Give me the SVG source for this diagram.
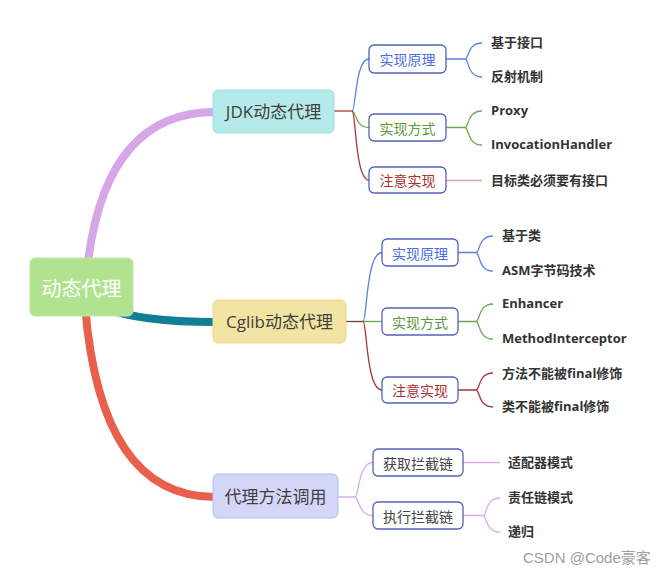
<svg xmlns="http://www.w3.org/2000/svg" width="667" height="575" viewBox="0 0 667 575">
<style>
.l1t{font-family:"Open Sans","Noto Sans CJK SC",sans-serif;font-size:17px;fill:#404040;text-anchor:middle;dominant-baseline:central}
.l2{fill:#ffffff;stroke:#5363b8;stroke-width:1.3}
.l2t{font-family:"Noto Sans CJK SC",sans-serif;font-size:14px;text-anchor:middle;dominant-baseline:central}
.leaf{font-family:"Open Sans","Noto Sans CJK SC",sans-serif;font-size:13px;font-weight:bold;fill:#333333;dominant-baseline:central}
.c{fill:none;stroke-width:1.3}
.blue{stroke:#5b7fe8}.green{stroke:#6aa84f}.red{stroke:#a83434}.purple{stroke:#d9aaf0}.lred{stroke:#e2a4a4}
.thick{fill:none;stroke-width:8;stroke-linecap:round}
</style>
<rect width="667" height="575" fill="#ffffff"/>
<g id="connectors">
  <path class="thick" stroke="#d5a6e8" d="M 87 270 Q 104 112 215 112"/>
  <path class="thick" stroke="#137f94" d="M 105 308 Q 140 322 215 322"/>
  <path class="thick" stroke="#e8604c" d="M 85 305 Q 100 497 215 497"/>
  <!-- JDK -->
  <path class="c red" d="M 334 111 H 352"/>
  <path class="c blue" d="M 352 111 C 356 111 355 59 369 59"/>
  <path class="c green" d="M 352 111 C 356 111 355 127.5 369 127.5"/>
  <path class="c red" d="M 352 111 C 356 111 355 180 369 180"/>
  <path class="c blue" d="M 446 59 H 465 M 465 59 C 469 59 467 43 482 43 M 465 59 C 469 59 467 77 482 77"/>
  <path class="c green" d="M 446 127.5 H 465 M 465 127.5 C 469 127.5 467 111 482 111 M 465 127.5 C 469 127.5 467 145 482 145"/>
  <path class="c lred" d="M 446 180.5 H 482"/>
  <!-- Cglib -->
  <path class="c" stroke="#7b3b2c" stroke-width="2" fill="none" d="M 346 321.5 H 363"/>
  <path class="c blue" d="M 363 321.5 C 367 321.5 366 252.5 382 252.5"/>
  <path class="c green" d="M 363 321.5 H 382"/>
  <path class="c red" d="M 363 321.5 C 367 321.5 366 390 382 390"/>
  <path class="c blue" d="M 458 252.5 H 476 M 476 252.5 C 480 252.5 478 236 493 236 M 476 252.5 C 480 252.5 478 271 493 271"/>
  <path class="c green" d="M 458 321.5 H 476 M 476 321.5 C 480 321.5 478 304 493 304 M 476 321.5 C 480 321.5 478 339 493 339"/>
  <path class="c red" d="M 458 390 H 476 M 476 390 C 480 390 478 373 493 373 M 476 390 C 480 390 478 407 493 407"/>
  <!-- Proxy call -->
  <path class="c purple" d="M 338 497 H 355 M 355 497 C 359 497 358 462.5 373 462.5 M 355 497 C 359 497 358 515.5 373 515.5"/>
  <path class="c purple" d="M 463 462.5 H 500"/>
  <path class="c purple" d="M 463 515.5 H 483 M 483 515.5 C 487 515.5 485 498 500 498 M 483 515.5 C 487 515.5 485 532 500 532"/>
</g>
<g id="root">
  <rect x="30" y="258" width="103" height="58" rx="5" fill="#b1e28f" stroke="#c3e9a6"/>
  <text x="81.5" y="287" font-family="Noto Sans CJK SC,sans-serif" font-size="20" fill="#ffffff" text-anchor="middle" dominant-baseline="central">动态代理</text>
</g>
<g id="jdk">
  <rect x="213" y="90" width="121" height="43" rx="5" fill="#b5eaea" stroke="#9edfe0"/>
  <text class="l1t" x="273.5" y="111.5">JDK动态代理</text>
</g>
<g id="cglib">
  <rect x="213" y="300" width="133" height="43" rx="5" fill="#f2e4a3" stroke="#ecd98a"/>
  <text class="l1t" x="279.5" y="321.5">Cglib动态代理</text>
</g>
<g id="proxycall">
  <rect x="213" y="474" width="125" height="44" rx="5" fill="#d4d6f8" stroke="#b9bdf2"/>
  <text class="l1t" x="275.5" y="496">代理方法调用</text>
</g>
<g id="jdk-principle">
  <rect class="l2" x="369" y="45" width="77" height="28" rx="5"/>
  <text class="l2t" x="407.5" y="59" fill="#4a6fe0">实现原理</text>
</g>
<g id="jdk-way">
  <rect class="l2" x="369" y="114" width="77" height="27" rx="5"/>
  <text class="l2t" x="407.5" y="127.5" fill="#5b9b3a">实现方式</text>
</g>
<g id="jdk-note">
  <rect class="l2" x="369" y="167" width="77" height="26" rx="5"/>
  <text class="l2t" x="407.5" y="180" fill="#a83030">注意实现</text>
</g>
<g id="jdk-leaves">
  <text class="leaf" x="491" y="41.5">基于接口</text>
  <text class="leaf" x="491" y="75.5">反射机制</text>
  <text class="leaf" x="491" y="109.5">Proxy</text>
  <text class="leaf" x="491" y="144">InvocationHandler</text>
  <text class="leaf" x="491" y="179.5">目标类必须要有接口</text>
</g>
<g id="cglib-principle">
  <rect class="l2" x="382" y="239" width="76" height="27" rx="5"/>
  <text class="l2t" x="420" y="252.5" fill="#4a6fe0">实现原理</text>
</g>
<g id="cglib-way">
  <rect class="l2" x="382" y="308" width="76" height="27" rx="5"/>
  <text class="l2t" x="420" y="321.5" fill="#5b9b3a">实现方式</text>
</g>
<g id="cglib-note">
  <rect class="l2" x="382" y="377" width="76" height="26" rx="5"/>
  <text class="l2t" x="420" y="390" fill="#a83030">注意实现</text>
</g>
<g id="cglib-leaves">
  <text class="leaf" x="502" y="235">基于类</text>
  <text class="leaf" x="502" y="270">ASM字节码技术</text>
  <text class="leaf" x="502" y="303">Enhancer</text>
  <text class="leaf" x="502" y="338">MethodInterceptor</text>
  <text class="leaf" x="502" y="372.5">方法不能被final修饰</text>
  <text class="leaf" x="502" y="406">类不能被final修饰</text>
</g>
<g id="get-chain">
  <rect class="l2" x="373" y="449" width="90" height="27" rx="5"/>
  <text class="l2t" x="418" y="462.5" fill="#444444">获取拦截链</text>
</g>
<g id="exec-chain">
  <rect class="l2" x="373" y="502" width="90" height="27" rx="5"/>
  <text class="l2t" x="418" y="515.5" fill="#444444">执行拦截链</text>
</g>
<g id="proxy-leaves">
  <text class="leaf" x="508" y="462">适配器模式</text>
  <text class="leaf" x="508" y="497">责任链模式</text>
  <text class="leaf" x="508" y="531">递归</text>
</g>
<text x="523" y="563" font-family="Liberation Sans,Noto Sans CJK SC,sans-serif" font-size="15" fill="#a0a0a0">CSDN @Code豪客</text>
</svg>
